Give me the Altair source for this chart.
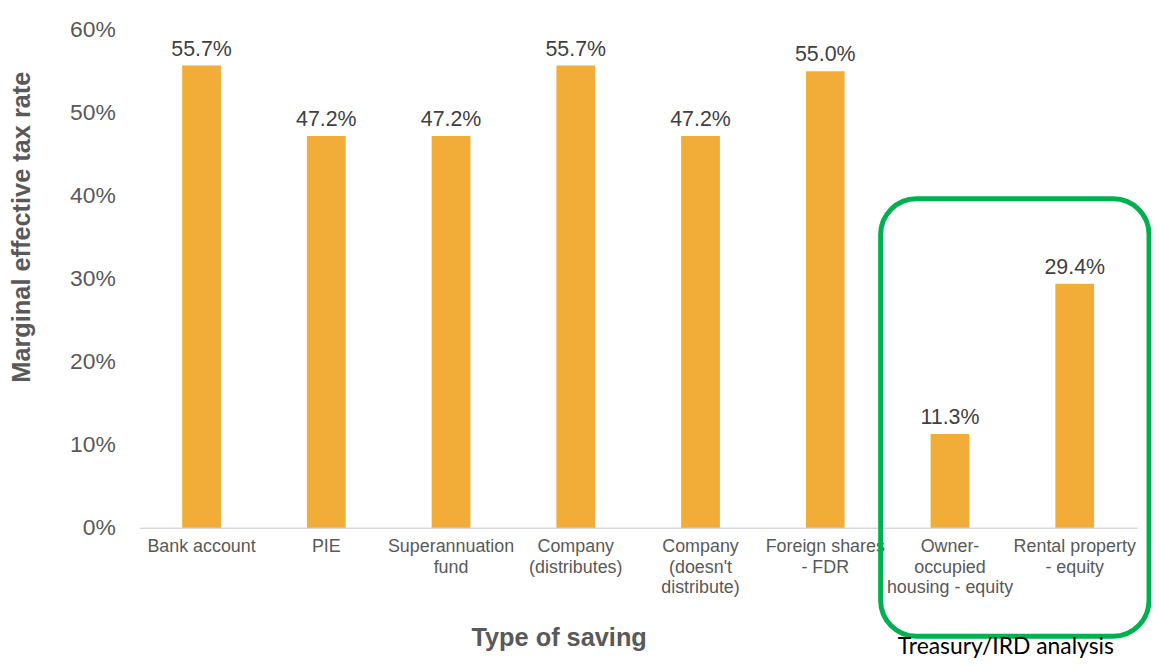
import altair as alt
import pandas as pd

categories = [
    "Bank account",
    "PIE",
    "Superannuation\nfund",
    "Company\n(distributes)",
    "Company\n(doesn't\ndistribute)",
    "Foreign shares\n- FDR",
    "Owner-\noccupied\nhousing - equity",
    "Rental property\n- equity",
]
rates = [0.557, 0.472, 0.472, 0.557, 0.472, 0.550, 0.113, 0.294]

df = pd.DataFrame({"cat": categories, "rate": rates})

BAR = "#F1AD38"
GRAY = "#595959"

x_enc = alt.X(
    "cat:N",
    sort=categories,
    scale=alt.Scale(paddingInner=0.0, paddingOuter=0.0),
    axis=alt.Axis(
        title="Type of saving",
        labelExpr="split(datum.label, '\\n')",
        labelAngle=0,
        labelFontSize=18,
        labelLineHeight=20.5,
        labelColor=GRAY,
        labelFont="Liberation Sans",
        labelPadding=10,
        labelBaseline="top",
        ticks=False,
        domainColor="#D9D9D9",
        domainWidth=1.5,
        titleFont="Liberation Sans",
        titleFontSize=25.5,
        titleFontWeight="bold",
        titleColor=GRAY,
        titleX=422,
        titleY=118,
        titleBaseline="alphabetic",
        titleAlign="center",
    ),
)

y_enc = alt.Y(
    "rate:Q",
    scale=alt.Scale(domain=[0, 0.6]),
    axis=alt.Axis(
        title="Marginal effective tax rate",
        format=".0%",
        values=[0, 0.1, 0.2, 0.3, 0.4, 0.5, 0.6],
        grid=False,
        domain=False,
        ticks=False,
        labelFontSize=23,
        labelColor=GRAY,
        labelFont="Liberation Sans",
        labelPadding=24,
        titleFont="Liberation Sans",
        titleFontSize=25.5,
        titleFontWeight="bold",
        titleColor=GRAY,
        titleAngle=-90,
        titleX=-118,
        titleY=198,
        titleAlign="center",
        titleBaseline="middle",
    ),
)

bars = alt.Chart(df).mark_bar(size=39, color=BAR).encode(x=x_enc, y=y_enc)

labels = alt.Chart(df).mark_text(
    baseline="alphabetic", dy=-10, fontSize=21.5, color="#404040", font="Liberation Sans"
).encode(
    x=alt.X("cat:N", sort=categories),
    y="rate:Q",
    text=alt.Text("rate:Q", format=".1%"),
)

box = alt.Chart(alt.Data(values=[{"a": 1}])).mark_rect(
    fill=None, fillOpacity=0, stroke="#00B050", strokeWidth=5, cornerRadius=36, clip=False
).encode(
    x=alt.value(746), x2=alt.value(1016), y=alt.value(170), y2=alt.value(610)
)

note = alt.Chart(alt.Data(values=[{"t": "Treasury/IRD analysis"}])).mark_text(
    fontSize=23, font="Lato", color="#000000", align="center", baseline="alphabetic"
).encode(
    x=alt.value(872), y=alt.value(628), text="t:N"
)

chart = alt.layer(bars, labels, box, note).properties(
    width=1004,
    height=501,
    autosize=alt.AutoSizeParams(type="none"),
    padding={"left": 132, "top": 20, "right": 14, "bottom": 134},
).configure_view(stroke=None)

chart.save("out.html", embed_options={"renderer": "svg", "actions": False})
